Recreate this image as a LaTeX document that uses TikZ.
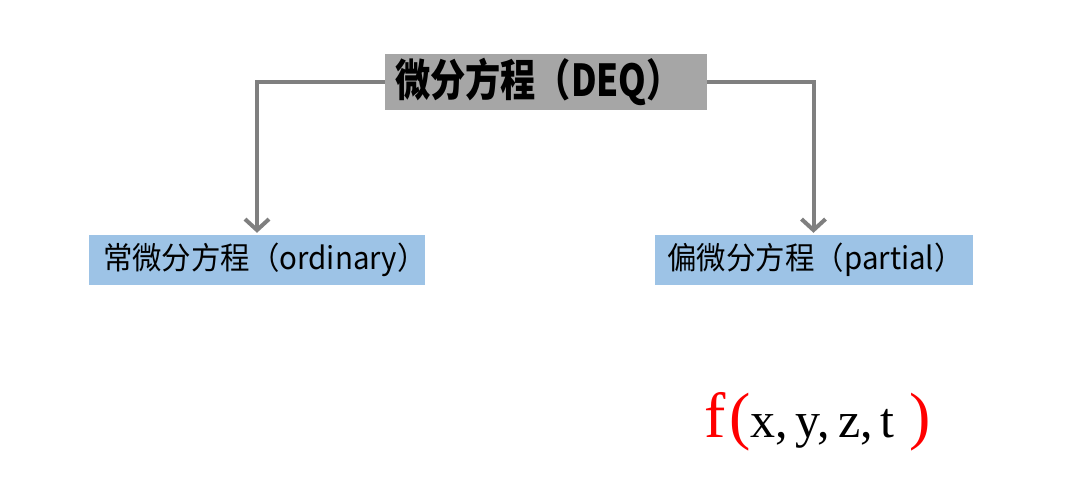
\documentclass[tikz,border=0pt]{standalone}
\usepackage{fontspec}
\usetikzlibrary{arrows.meta}
\newfontfamily\cjkfont{Noto Sans CJK SC}[FakeStretch=0.95]
\newfontfamily\deqfont{Noto Sans CJK SC}[FakeStretch=0.8]
\newfontfamily\fxfont{Liberation Serif}
\definecolor{boxgray}{RGB}{166,166,166}
\definecolor{boxblue}{RGB}{157,195,230}
\definecolor{linegray}{RGB}{127,127,127}
\definecolor{fred}{RGB}{255,0,0}

\begin{document}
\begin{tikzpicture}[x=1pt, y=-1pt,
    topbox/.style={rectangle, fill=boxgray, inner xsep=10pt, inner ysep=0pt, text width=302pt, minimum height=56pt, align=left, font=\deqfont\bfseries\fontsize{44}{48}\selectfont},
    subbox/.style={rectangle, fill=boxblue, inner ysep=0pt, minimum height=50pt, align=left, font=\cjkfont\fontsize{31}{34}\selectfont},
    formula/.style={anchor=base, inner sep=0pt, font=\fxfont\fontsize{50}{54}\selectfont},
    arrow/.style={draw=linegray, line width=4pt, -{Straight Barb[length=11pt,width=24pt]}, shorten >=2pt}
]
\useasboundingbox (0,0) rectangle (1080,488);

\node[topbox] (DEQ) at (546,82) {微分方程（DEQ）};
\node[subbox, inner xsep=14pt, text width=308pt] (ODE) at (257,260) {常微分方程（ordinary）};
\node[subbox, inner xsep=13pt, text width=292pt] (PDE) at (813.5,260) {偏微分方程（partial）};

% Connections
\draw[arrow] (DEQ.west) -| (ODE.north);
\draw[arrow] (DEQ.east) -| (PDE.north);

% Function
\node[formula] (F) at (818,437) {\textcolor{fred}{\fontsize{64}{64}\selectfont f\hspace{3pt}(}x,\hspace{8pt}y,\hspace{8pt}z,\hspace{8pt}t\hspace{15pt}\textcolor{fred}{\fontsize{64}{64}\selectfont )}};

\end{tikzpicture}
\end{document}
